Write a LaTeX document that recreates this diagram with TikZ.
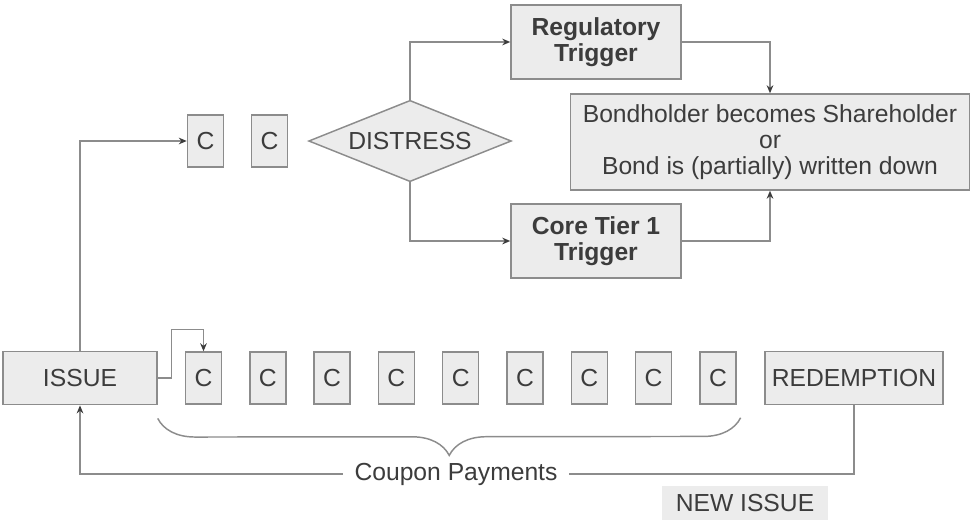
\documentclass[tikz,border=0pt]{standalone}
\usepackage{fontspec}
\setmainfont{Liberation Sans}
\usetikzlibrary{arrows.meta,positioning,calc,shapes.geometric,decorations.pathreplacing}
\definecolor{bline}{HTML}{8C8C8C}
\definecolor{bfill}{HTML}{ECECEC}
\definecolor{btext}{HTML}{3C3C3C}
\tikzset{
  box/.style={draw=bline,fill=bfill,line width=1.1pt,align=center,text=btext,font=\fontsize{18.5}{19.5}\selectfont,inner sep=2pt},
  cbox/.style={box,minimum width=27pt,minimum height=39pt},
  trig/.style={box,font=\fontsize{18.5}{19.5}\selectfont\bfseries,minimum width=127.5pt,minimum height=55.5pt},
  dia/.style={box,diamond,aspect=2.5,minimum width=152pt,minimum height=61pt,inner sep=0pt},
  arr/.style={-{Stealth[length=6pt,width=5pt,color=btext]},line width=1.1pt,draw=bline},
  ln/.style={line width=1.1pt,draw=bline},
  lbl/.style={text=btext,font=\fontsize{18.5}{19.5}\selectfont},
}
\begin{document}
\begin{tikzpicture}[x=0.75pt,y=-0.75pt]
  \useasboundingbox (0,0) rectangle (970,521);
  % lifecycle row
  \node[box,minimum width=115.5pt,minimum height=40pt] (issue) at (80,378) {ISSUE};
  \foreach \i in {1,...,9}
    \node[cbox] (c\i) at ({203.5+64.3*(\i-1)},378) {C};
  \node[box,minimum width=133.5pt,minimum height=40pt] (redem) at (854,378) {REDEMPTION};
  % distress branch
  \node[cbox] (t1) at (205.5,141) {C};
  \node[cbox] (t2) at (269.5,141) {C};
  \node[dia] (dis) at (410,141) {DISTRESS};
  \node[trig] (reg) at (596,42) {Regulatory\\Trigger};
  \node[trig] (core) at (596,241) {Core Tier 1\\Trigger};
  \node[box,minimum width=299pt,minimum height=72pt] (bond) at (770,142)
    {Bondholder becomes Shareholder\\or\\Bond is (partially) written down};
  \node[fill=bfill,lbl,minimum width=124pt,minimum height=26pt] (newiss) at (745,503) {NEW ISSUE};

  \draw[arr] (issue.north) |- (t1.west);
  \coordinate (kink) at ($(c1.north)+(0,-22)$);
  \draw[arr] (issue.east) -- ++(14,0) |- (kink) -- (c1.north);
  \draw[arr] (dis.north) |- (reg.west);
  \draw[arr] (dis.south) |- (core.west);
  \draw[arr] (reg.east) -| (bond.north);
  \draw[arr] (core.east) -| (bond.south);

  % coupons
  \draw[ln,decorate,decoration={brace,mirror,amplitude=28pt}]
    ($(issue.south east)+(0,13)$) -- ($(c9.south east)+(4,13)$);
  \coordinate (cpy) at (456,474);
  \draw[arr] (redem.south) |- (cpy) -| (issue.south);
  \node[lbl,fill=white,inner xsep=9pt,inner ysep=1pt] (cpl) at (cpy) {Coupon Payments};
\end{tikzpicture}
\end{document}
